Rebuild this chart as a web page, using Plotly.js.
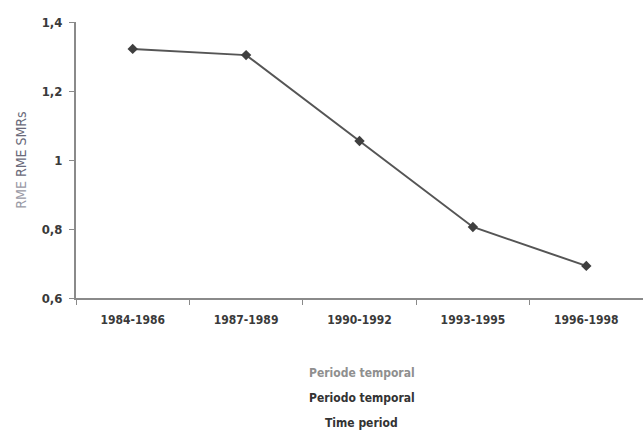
<!DOCTYPE html>
<html>
<head>
<meta charset="utf-8">
<script src="https://cdn.plot.ly/plotly-3.0.1.min.js"></script>
<style>html,body{margin:0;padding:0;background:#fff;}#chart{width:643px;height:439px;}</style>
</head>
<body>
<div id="chart"></div>
<script>
const periods = ["1984-1986", "1987-1989", "1990-1992", "1993-1995", "1996-1998"];
const smr = [1.322, 1.304, 1.055, 0.806, 0.693];
const yTicks = [0.6, 0.8, 1, 1.2, 1.4];
const titleLines = ["Periode temporal", "Periodo temporal", "Time period"];
const titleColors = ["#8f8f8f", "#333333", "#333333"];

const font = "'DejaVu Sans Condensed', 'DejaVu Sans', sans-serif";

const trace = {
  x: periods,
  y: smr,
  type: "scatter",
  mode: "lines+markers",
  line: {color: "#555555", width: 2},
  marker: {symbol: "diamond", size: 8, color: "#3f3f3f"},
  hoverinfo: "skip"
};

const annotations = titleLines.map((t, i) => ({
  text: t,
  xref: "paper", yref: "paper",
  x: 0.504, y: -0.272 - i * 0.0906,
  xanchor: "center", yanchor: "middle",
  showarrow: false,
  font: {family: font, size: 12, color: titleColors[i], weight: i === 0 ? 600 : 700}
}));

const layout = {
  width: 643, height: 439,
  margin: {l: 76, r: 0, t: 22, b: 141},
  paper_bgcolor: "#ffffff",
  plot_bgcolor: "#ffffff",
  showlegend: false,
  separators: ",.",
  font: {family: font, color: "#444444", size: 12},
  xaxis: {
    type: "category",
    range: [-0.5, 4.5],
    showgrid: false,
    zeroline: false,
    showline: true,
    linecolor: "#8a8a8a",
    linewidth: 2,
    ticks: "outside",
    tickson: "boundaries",
    ticklen: 5,
    tickcolor: "#8a8a8a",
    tickwidth: 1,
    ticklabelstandoff: 10,
    tickfont: {family: font, size: 12, color: "#3a3a3a", weight: 700}
  },
  yaxis: {
    range: [0.6, 1.4],
    tickvals: yTicks,
    showgrid: false,
    zeroline: false,
    showline: true,
    linecolor: "#8a8a8a",
    linewidth: 2,
    ticks: "outside",
    ticklen: 5,
    tickcolor: "#8a8a8a",
    tickwidth: 1,
    ticklabelstandoff: 4,
    tickfont: {family: font, size: 13, color: "#3a3a3a", weight: 700},
    title: {
      text: "<span style='color:#9a9aa6'>RME</span> <span style='color:#6a6a7a'>RME SMRs</span>",
      font: {family: font, size: 14, color: "#6a6a7a"},
      standoff: 12
    }
  },
  annotations: annotations
};

Plotly.newPlot("chart", [trace], layout, {displayModeBar: false, staticPlot: true});
</script>
</body>
</html>
